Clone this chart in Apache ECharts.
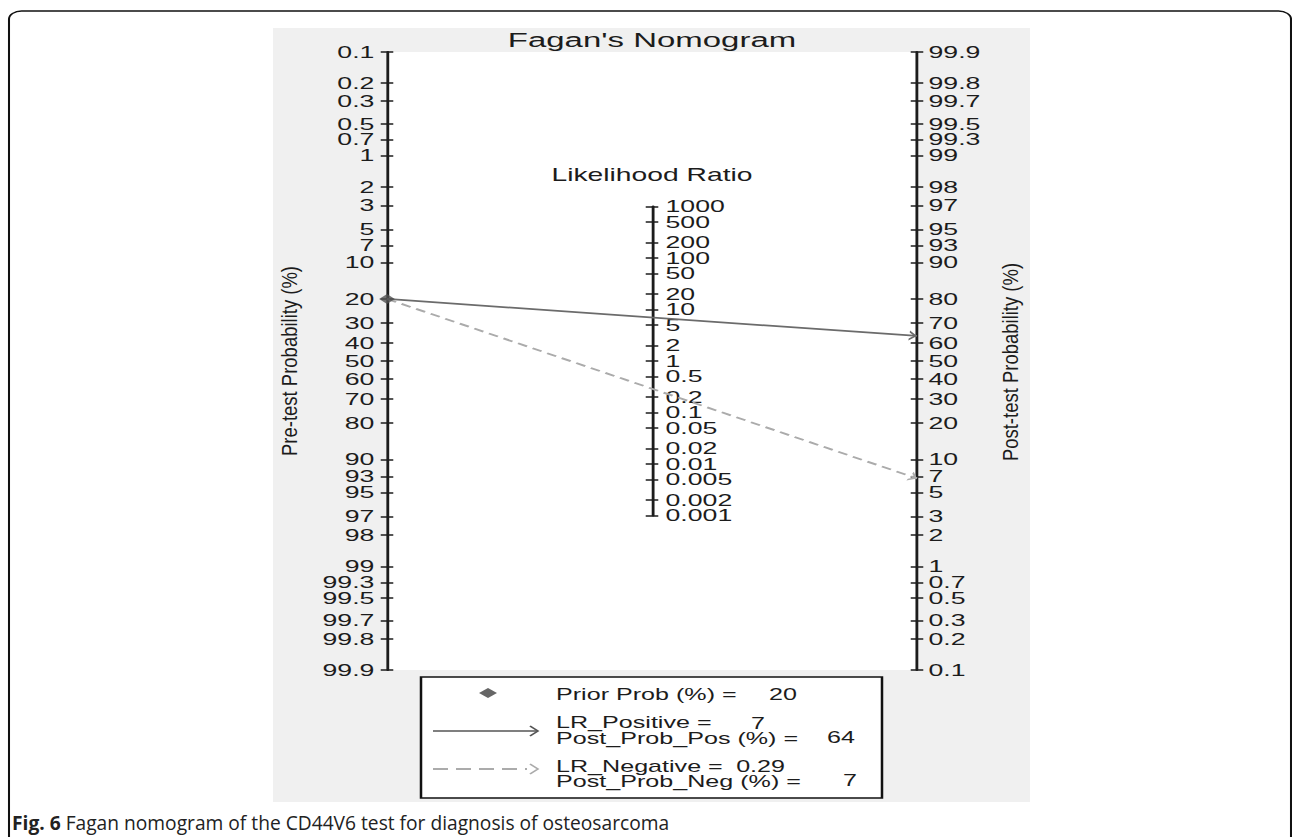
<!DOCTYPE html>
<html>
<head>
<meta charset="utf-8">
<title>Fagan's Nomogram</title>
<script src="https://cdn.jsdelivr.net/npm/echarts@6/dist/echarts.min.js"></script>
<style>
  html, body { margin: 0; padding: 0; background: #fff; overflow: hidden; }
  /* the source figure is stretched sideways: draw it narrow, then stretch the div */
  #chart { width: 823px; height: 837px; transform: scaleX(1.57); transform-origin: 0 0; }
</style>
</head>
<body>
<div id="chart"></div>
<script>
// ---- values ----
var probTicks = [0.1, 0.2, 0.3, 0.5, 0.7, 1, 2, 3, 5, 7, 10, 20, 30, 40, 50, 60, 70, 80, 90, 93, 95, 97, 98, 99, 99.3, 99.5, 99.7, 99.8, 99.9];
var lrTicks = [1000, 500, 200, 100, 50, 20, 10, 5, 2, 1, 0.5, 0.2, 0.1, 0.05, 0.02, 0.01, 0.005, 0.002, 0.001];
var priorProb = 20;   // %
var lrPositive = 7;
var lrNegative = 0.29;

// ---- helpers ----
function logit(p) { return Math.log(p / (100 - p)); }
function postProb(pre, lr) {
    var o = pre / (100 - pre) * lr;
    return 100 * o / (1 + o);
}
var postPos = postProb(priorProb, lrPositive);
var postNeg = postProb(priorProb, lrNegative);

var SX = 1.57;
function sx(px) { return px / SX; }

var L = logit(99.9);
var plotTop = 52, plotH = 618, axL = 387, axR = 917;
var lrMid = (axL + axR) / 2;
// LR scale sits half way, so ln(LR) counts half on the logit scale
var lrH = plotH * Math.log(1000) / (2 * L);
var lrTop = plotTop + plotH / 2 - lrH / 2;

var FONT = "'Liberation Sans', Arial, Helvetica, sans-serif";
var INK = '#1c1c1c';
// open arrow head, tip at the centre of its box
var CHEVRON = 'path://M5,0M5,10L10,20L8,20L5,14L2,20L0,20Z';

var probVals = probTicks.map(logit);
var lrVals = lrTicks.map(function (r) { return Math.log10(r); });
// LR labels sit very close together; split them over two label axes so none gets dropped
var lrValsA = lrVals.filter(function (v, i) { return i % 2 === 0; });
var lrValsB = lrVals.filter(function (v, i) { return i % 2 === 1; });

function labelOf(list, vals) {
    return function (v) {
        var best = 0;
        for (var i = 1; i < vals.length; i++) {
            if (Math.abs(vals[i] - v) < Math.abs(vals[best] - v)) best = i;
        }
        return String(list[best]);
    };
}

// mode: 'main' = line + outer ticks + labels, 'line' = line + outer ticks,
//       'inner' = inner ticks only, 'labels' = labels only
function mkAxis(gridIndex, position, min, max, inverse, vals, fmt, mode, margin) {
    var hasLine = mode === 'main' || mode === 'line';
    var hasLabels = mode === 'main' || mode === 'labels';
    return {
        type: 'value',
        gridIndex: gridIndex,
        position: position,
        min: min,
        max: max,
        inverse: inverse,
        axisLine: { show: hasLine, onZero: false, lineStyle: { color: INK, width: 1.8 } },
        axisTick: {
            show: mode !== 'labels', inside: mode === 'inner', length: 4, customValues: vals,
            lineStyle: { color: INK, width: 1.5 }
        },
        axisLabel: {
            show: hasLabels, customValues: vals, formatter: fmt, margin: margin,
            color: INK, fontSize: 17, fontFamily: FONT, hideOverlap: false,
            showMinLabel: true, showMaxLabel: true
        },
        splitLine: { show: false }
    };
}

function txt(x, y, text, size, align, extra) {
    var el = {
        type: 'text', x: x, y: y, z: 20,
        style: {
            text: text, fontSize: size, fontFamily: FONT, fill: INK,
            align: align, textAlign: align, verticalAlign: 'middle', textVerticalAlign: 'middle'
        }
    };
    for (var k in extra) el[k] = extra[k];
    return el;
}

var chart = echarts.init(document.getElementById('chart'), null, { renderer: 'svg', width: 823, height: 837 });

var lrFmt = labelOf(lrTicks, lrVals);
var probFmt = labelOf(probTicks, probVals);

var option = {
    animation: false,
    backgroundColor: '#fff',
    grid: [
        { left: sx(axL), top: plotTop, width: sx(axR - axL), height: plotH, show: true, backgroundColor: '#fff', borderWidth: 0, outerBoundsMode: 'none' },
        { left: sx(lrMid) - 1, top: lrTop, width: 1, height: lrH, outerBoundsMode: 'none' }
    ],
    xAxis: [
        { type: 'value', gridIndex: 0, min: 0, max: 1, show: false },
        { type: 'value', gridIndex: 1, min: 0, max: 1, show: false }
    ],
    yAxis: [
        mkAxis(0, 'left', -L, L, true, probVals, probFmt, 'main', 8),
        mkAxis(0, 'left', -L, L, true, probVals, null, 'inner', 8),
        mkAxis(0, 'right', -L, L, false, probVals, probFmt, 'main', 7.3),
        mkAxis(0, 'right', -L, L, false, probVals, null, 'inner', 8),
        mkAxis(1, 'right', -3, 3, false, lrVals, null, 'line', 8.6),
        mkAxis(1, 'right', -3, 3, false, lrVals, null, 'inner', 8),
        mkAxis(1, 'right', -3, 3, false, lrValsA, lrFmt, 'labels', 8.6),
        mkAxis(1, 'right', -3, 3, false, lrValsB, lrFmt, 'labels', 8.6)
    ],
    series: [
        {
            type: 'lines', coordinateSystem: 'cartesian2d', xAxisIndex: 0, yAxisIndex: 0,
            symbol: ['none', CHEVRON], symbolSize: [0, [10, 10]],
            lineStyle: { color: '#ababab', width: 1.8, type: [6.5, 4], opacity: 1, curveness: 0 },
            data: [{ coords: [[0, logit(priorProb)], [1, -logit(postNeg)]] }],
            z: 3, silent: true
        },
        {
            type: 'lines', coordinateSystem: 'cartesian2d', xAxisIndex: 0, yAxisIndex: 0,
            symbol: ['none', CHEVRON], symbolSize: [0, [10, 10]],
            lineStyle: { color: '#6b6b6b', width: 1.8, type: 'solid', opacity: 1, curveness: 0 },
            data: [{ coords: [[0, logit(priorProb)], [1, -logit(postPos)]] }],
            z: 4, silent: true
        },
        {
            type: 'scatter', xAxisIndex: 0, yAxisIndex: 0,
            symbol: 'diamond', symbolSize: 10,
            itemStyle: { color: '#505050' },
            data: [[0, logit(priorProb)]],
            z: 5, silent: true
        }
    ],
    graphic: [
        // page frame
        { type: 'rect', z: -20, shape: { x: sx(9), y: 11, width: sx(1291 - 9), height: 900, r: 8 },
          style: { fill: 'none', stroke: '#111', lineWidth: 1.3 } },
        // grey panel behind the plot
        { type: 'rect', z: -10, shape: { x: sx(273), y: 28, width: sx(1030 - 273), height: 802 - 28 },
          style: { fill: '#f0f0f0' } },

        txt(sx(652), 39.5, "Fagan's Nomogram", 21, 'center'),
        txt(sx(652), 175, 'Likelihood Ratio', 18, 'center'),
        txt(sx(289), 361, 'Pre-test Probability (%)', 18.5, 'center', { rotation: Math.PI / 2, scaleY: 0.75 }),
        txt(sx(1010), 362, 'Post-test Probability (%)', 18.5, 'center', { rotation: Math.PI / 2, scaleY: 0.75 }),

        // legend box
        { type: 'rect', z: 15, shape: { x: sx(421), y: 677, width: sx(461), height: 121 },
          style: { fill: '#fff', stroke: '#111', lineWidth: 1.6 } },
        { type: 'polygon', z: 16,
          shape: { points: [[sx(479), 693], [sx(488), 688], [sx(497), 693], [sx(488), 698]] },
          style: { fill: '#666' } },
        { type: 'line', z: 16, shape: { x1: sx(433), y1: 731, x2: sx(537), y2: 731 },
          style: { stroke: '#555', lineWidth: 1.5 } },
        { type: 'polyline', z: 16, shape: { points: [[sx(530), 726], [sx(538), 731], [sx(530), 736]] },
          style: { stroke: '#555', lineWidth: 1.3, fill: 'none' } },
        { type: 'line', z: 16, shape: { x1: sx(433), y1: 769, x2: sx(527), y2: 769 },
          style: { stroke: '#ababab', lineWidth: 2, lineDash: [sx(15), sx(8)] } },
        { type: 'polyline', z: 16, shape: { points: [[sx(530), 764], [sx(538), 769], [sx(530), 774]] },
          style: { stroke: '#ababab', lineWidth: 1.3, fill: 'none' } },

        txt(sx(556), 694, 'Prior Prob (%) =', 16, 'left'),
        txt(sx(797), 694, String(priorProb), 16, 'right'),
        txt(sx(556), 722, 'LR_Positive =', 16, 'left'),
        txt(sx(765), 723, String(lrPositive), 16, 'right'),
        txt(sx(556), 738, 'Post_Prob_Pos (%) =', 16, 'left'),
        txt(sx(855), 737, String(Math.round(postPos)), 16, 'right'),
        txt(sx(556), 766, 'LR_Negative =', 16, 'left'),
        txt(sx(785), 766, String(lrNegative), 16, 'right'),
        txt(sx(556), 781, 'Post_Prob_Neg (%) =', 16, 'left'),
        txt(sx(857), 780, String(Math.round(postNeg)), 16, 'right'),

        // figure caption, drawn at normal width
        {
            type: 'text', x: sx(12), y: 823, z: 20, scaleX: 1 / SX,
            style: {
                text: '{b|Fig. 6} Fagan nomogram of the CD44V6 test for diagnosis of osteosarcoma',
                fontSize: 19.2, fontFamily: "'Open Sans', 'Noto Sans', sans-serif", fill: '#222',
                align: 'left', textAlign: 'left', verticalAlign: 'middle', textVerticalAlign: 'middle',
                rich: { b: { fontWeight: 'bold', fontSize: 19.2, fontFamily: "'Open Sans', 'Noto Sans', sans-serif", fill: '#222' } }
            }
        }
    ]
};

chart.setOption(option);
</script>
</body>
</html>
